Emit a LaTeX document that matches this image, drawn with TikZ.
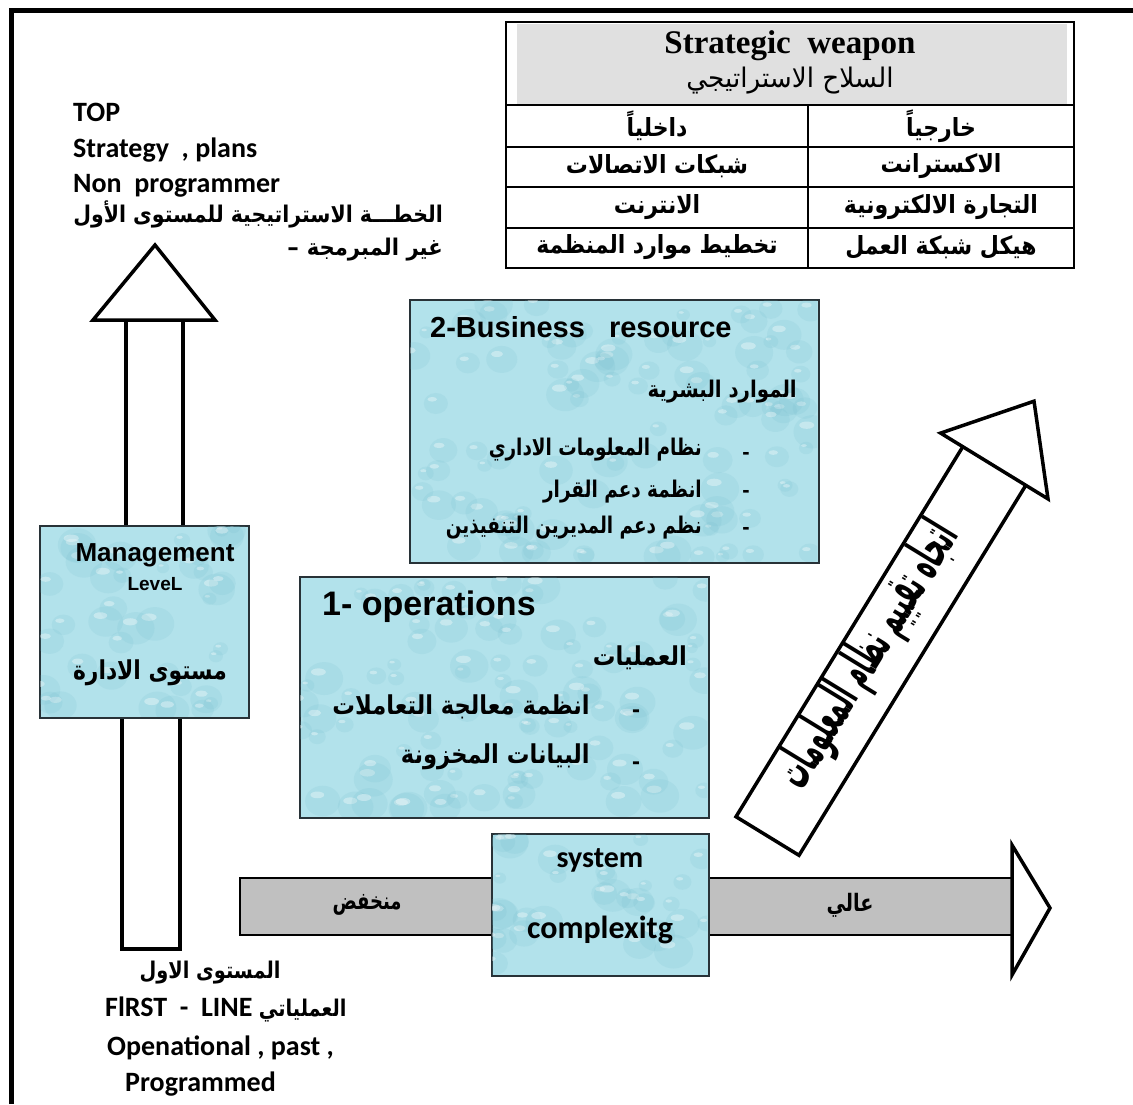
\documentclass[tikz,border=0pt]{standalone}
\usepackage{fontspec}
\setmainfont{Carlito}
\newfontfamily\arialf{Liberation Sans}
\newfontfamily\tnrf{Liberation Serif}
\newfontfamily\arabicfont[Script=Arabic]{DejaVu Sans}
\TeXXeTstate=1
\newcommand{\ar}[2][0.88]{\scalebox{#1}[1]{\beginR #2\endR}}
\definecolor{water}{RGB}{178,226,235}
\definecolor{dropdark}{RGB}{110,185,202}
\definecolor{hdrgray}{RGB}{224,224,224}
\definecolor{bargray}{RGB}{192,192,192}
\definecolor{boxline}{RGB}{40,50,55}
\tikzset{
  frameline/.style={line width=5pt, line join=miter},
  outline/.style={draw=black, line width=3.5pt, line join=miter, fill=white},
  waterbox/.style={draw=boxline, line width=2pt, fill=water, inner sep=0pt},
  cal/.style={font=\bfseries\fontsize{#1}{#1}\selectfont, inner sep=0pt},
  ari/.style={font=\arialf\bfseries\fontsize{#1}{#1}\selectfont, inner sep=0pt},
  arb/.style={font=\arabicfont\bfseries\fontsize{#1}{#1}\selectfont, inner sep=0pt},
  arr/.style={font=\arabicfont\fontsize{#1}{#1}\selectfont, inner sep=0pt},
  tbl/.style={line width=1.6pt},
}
\newcommand{\drops}[5]{%
  \begin{scope}
  \clip (#1,#2) rectangle (#3,#4);
  \foreach \k in {1,...,#5}{
    \pgfmathsetmacro{\cx}{#1+rnd*(#3-#1)}
    \pgfmathsetmacro{\cy}{#2+rnd*(#4-#2)}
    \pgfmathsetmacro{\rr}{5+rnd*12}
    \fill[dropdark, opacity=0.14] (\cx,\cy) ellipse ({\rr*1.15} and \rr);
    \fill[white, opacity=0.35] ({\cx-\rr*0.35},{\cy-\rr*0.4}) ellipse ({\rr*0.45} and {\rr*0.22});
  }
  \end{scope}}
\begin{document}
\begin{tikzpicture}[x=1pt,y=-1pt]
\pgfmathsetseed{12}
\useasboundingbox[fill=white] (0,0) rectangle (1133,1104);
\draw[frameline] (11,1104) -- (11,10) -- (1133,10);

% table
\fill[hdrgray] (517,24) rectangle (1067,104);
\draw[line width=2.2pt] (506,22) rectangle (1074,268);
\foreach \yy in {105,147,187,228} \draw[tbl] (506,\yy) -- (1074,\yy);
\draw[tbl] (808,105) -- (808,268);
\node[font=\tnrf\bfseries\fontsize{33}{33}\selectfont, inner sep=0pt] (sw) at (790,46) {Strategic\ \ weapon};
\node[arr=27] (swar) at (790,81) {\ar[0.97]{السلاح الاستراتيجي}};
\node[arb=25] (t11) at (657,126) {\ar{داخلياً}};
\node[arb=25] (t12) at (941,126) {\ar{خارجياً}};
\node[arb=25] (t21) at (657,166) {\ar{شبكات الاتصالات}};
\node[arb=25] (t22) at (941,166) {\ar{الاكسترانت}};
\node[arb=25] (t31) at (657,207) {\ar{الانترنت}};
\node[arb=25] (t32) at (941,207) {\ar{التجارة الالكترونية}};
\node[arb=25] (t41) at (657,247) {\ar{تخطيط موارد المنظمة}};
\node[arb=25] (t42) at (941,247) {\ar{هيكل شبكة العمل}};

% left top text
\node[cal=28, anchor=base west] (top) at (73,121) {TOP};
\node[cal=28, anchor=base west] (strat) at (73,157) {Strategy\ \ , plans};
\node[cal=28, anchor=base west] (nonp) at (73,192) {Non\ \ programmer};
\node[arb=23, anchor=east] (khitta) at (443,214) {\ar[0.89]{الخطـــة الاستراتيجية للمستوى الأول}};
\node[arb=23, anchor=east] (ghayr) at (443,250) {– \ar[0.92]{غير المبرمجة}};

% vertical arrow
\draw[outline] (93,320) -- (155,245) -- (215,320) -- cycle;
\draw[outline] (126,320) -- (126,525);
\draw[outline] (183,320) -- (183,525);
\draw[outline] (122,716) -- (122,949) -- (180,949) -- (180,716);

% management box
\node[waterbox, minimum width=209pt, minimum height=192pt, anchor=north west] (mgmt) at (39,525) {};
\drops{40}{526}{247}{716}{40}
\node[ari=26, anchor=base] (mg1) at (155,561) {Management};
\node[ari=19, anchor=base] (mg2) at (155,590) {LeveL};
\node[arb=26] (mg3) at (150,673) {\ar[0.84]{مستوى الادارة}};

% business box
\node[waterbox, minimum width=409pt, minimum height=263pt, anchor=north west] (biz) at (409,299) {};
\drops{410}{300}{817}{561}{100}
\node[ari=29, anchor=base west] (biz1) at (430,337) {2-Business\ \ \ resource};
\node[arb=23, anchor=east] (biz2) at (797,392) {\ar[0.86]{الموارد البشرية}};
\node[arb=23, anchor=east] (biz3) at (702,450) {\ar[0.8]{نظام المعلومات الاداري}};
\node[arb=23, anchor=east] (biz4) at (702,492) {\ar[0.8]{انظمة دعم القرار}};
\node[arb=23, anchor=east] (biz5) at (702,528) {\ar[0.8]{نظم دعم المديرين التنفيذين}};
\node[ari=22] (bd1) at (746,456) {-};
\node[ari=22] (bd2) at (746,494) {-};
\node[ari=22] (bd3) at (746,531) {-};

% operations box
\node[waterbox, minimum width=409pt, minimum height=241pt, anchor=north west] (ops) at (299,576) {};
\drops{300}{577}{707}{816}{95}
\node[ari=34, anchor=base west] (ops1) at (322,615) {1- operations};
\node[arb=26, anchor=east] (ops2) at (687,658) {\ar[0.87]{العمليات}};
\node[arb=26, anchor=east] (ops3) at (590,707) {\ar[0.87]{انظمة معالجة التعاملات}};
\node[arb=26, anchor=east] (ops4) at (590,757) {\ar[0.87]{البيانات المخزونة}};
\node[ari=24] (od1) at (636,714) {-};
\node[ari=24] (od2) at (636,766) {-};

% diagonal arrow
\draw[outline] (962.8,446.7) -- (736,816.7) -- (799,855.3) -- (1025.8,485.3);
\draw[outline] (940.6,433.1) -- (1034,401.2) -- (1048,498.9) -- cycle;
\node[font=\arabicfont\bfseries\fontsize{54}{54}\selectfont, rotate=58.5, inner sep=0pt] (diag) at (869,656) {\ar[0.41]{اتجاه تقييم نظام المعلومات}};

% horizontal arrow
\draw[line width=2pt, fill=bargray] (240,878) rectangle (1012,935);
\draw[outline] (1012,845) -- (1050,908) -- (1012,975) -- cycle;
\node[arb=24] (low) at (367,905) {\ar[0.75]{منخفض}};
\node[arb=24] (high) at (850,905) {\ar[0.8]{عالي}};

% system box
\node[waterbox, minimum width=217pt, minimum height=142pt, anchor=north west] (sys) at (491,833) {};
\drops{492}{834}{707}{974}{32}
\node[cal=30, anchor=base] (sys1) at (600,867) {system};
\node[cal=32, anchor=base] (sys2) at (600,938) {complexitg};

% bottom text
\node[arb=23] (b1) at (210,973) {\ar[0.84]{المستوى الاول}};
\node[cal=28, anchor=base west] (b2) at (105,1016) {FlRST\ \ -\ \ LINE {\arabicfont\bfseries\fontsize{23}{23}\selectfont\ar[0.84]{العملياتي}}};
\node[cal=28, anchor=base west] (b3) at (107,1055) {Openational , past ,};
\node[cal=28, anchor=base west] (b4) at (125,1091) {Programmed};
\end{tikzpicture}
\end{document}
